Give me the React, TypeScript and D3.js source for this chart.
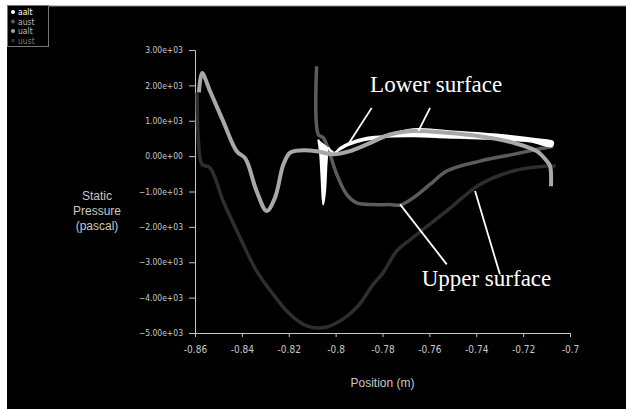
import { useEffect, useRef } from "react";
import * as d3 from "d3";

// Figure size
const width = 626;
const height = 409;

// Plot area in pixels
const margin = { top: 50, right: 56, bottom: 76, left: 195 };

// Axis ticks
const xTicks = [-0.86, -0.84, -0.82, -0.8, -0.78, -0.76, -0.74, -0.72, -0.7];
const yTicks = [3000, 2000, 1000, 0, -1000, -2000, -3000, -4000, -5000];

// Legend entries
const seriesNames = ["aalt", "aust", "ualt", "uust"];
const seriesColors = ["#ffffff", "#5c5c5c", "#a8a8a8", "#2e2e2e"];

// aalt - white, spike at the leading edge then a closed loop
const aaltX = [-0.8074, -0.8067, -0.806, -0.8053, -0.8045, -0.8038, -0.8031, -0.801, -0.7981, -0.7939, -0.7867, -0.7798,
  -0.767, -0.7526, -0.7313, -0.7128, -0.7073, -0.7078, -0.717, -0.7384, -0.7526, -0.767, -0.78, -0.794, -0.8003];
const aaltY = [470, 140, -610, -1370, -990, -140, 235, 50, 235, 380, 520, 570,
  760, 710, 610, 470, 400, 280, 410, 500, 530, 560, 530, 330, 100];

// aust - dark gray
const austX = [-0.8081, -0.8074, -0.8053, -0.8024, -0.7995, -0.7953, -0.791, -0.7839, -0.7768, -0.7725, -0.7669,
  -0.7597, -0.7526, -0.7384, -0.7242, -0.7142, -0.7071];
const austY = [2540, 610, 520, 50, -520, -1080, -1320, -1370, -1370, -1385, -1180,
  -800, -420, -140, 50, 190, 280];

// ualt - light gray
const ualtX = [-0.8583, -0.857, -0.8536, -0.848, -0.8422, -0.8387, -0.8373, -0.8337, -0.8294, -0.8259, -0.8223,
  -0.8195, -0.8152, -0.8081, -0.801, -0.7939, -0.7867, -0.7768, -0.767, -0.7526, -0.7384, -0.7243, -0.7142,
  -0.7099, -0.7085, -0.7081];
const ualtY = [1800, 2350, 1840, 990, 140, -50, -240, -990, -1550, -1180, -240,
  90, 160, 140, 50, 140, 330, 610, 710, 660, 560, 380, 140,
  -140, -280, -850];

// uust - very dark gray
const uustX = [-0.8591, -0.8585, -0.857, -0.8536, -0.848, -0.8408, -0.8337, -0.8267, -0.8195, -0.8123, -0.8053,
  -0.7981, -0.791, -0.7839, -0.7798, -0.7739, -0.767, -0.7526, -0.7384, -0.7243, -0.7099, -0.706];
const uustY = [1790, 400, -235, -330, -1270, -2300, -3250, -3900, -4470, -4800, -4850,
  -4660, -4280, -3620, -3300, -2680, -2300, -1550, -800, -420, -280, -280];

// Annotation labels and pointer lines (data units)
const labelText = ["Lower surface", "Upper surface"];
const labelX = [-0.7853, -0.7633];
const labelY = [1800, -3670];
const pointerFromX = [-0.7846, -0.7597, -0.7725, -0.7405];
const pointerFromY = [1364, 1364, -1364, -989];
const pointerToX = [-0.7942, -0.7647, -0.7526, -0.7299];
const pointerToY = [376, 706, -3059, -3342];

const narrow = "'Liberation Sans Narrow', 'DejaVu Sans Condensed', 'Arial Narrow', sans-serif";

const zip = (xs: number[], ys: number[]) => xs.map((x, i) => [x, ys[i]] as [number, number]);

const drawChart = (node: SVGSVGElement) => {
  const svg = d3.select(node);
  svg.selectAll("*").remove();

  // white page edge then the black panel
  svg.append("rect").attr("width", width).attr("height", height).attr("fill", "#fff");
  svg.append("rect").attr("x", 7).attr("y", 6).attr("width", width - 7).attr("height", height - 6).attr("fill", "#000");
  svg.append("line").attr("x1", 7).attr("x2", width).attr("y1", 6).attr("y2", 6).attr("stroke", "#888");

  const x = d3.scaleLinear().domain([-0.86, -0.7]).range([margin.left, width - margin.right]);
  const y = d3.scaleLinear().domain([-5000, 3000]).range([height - margin.bottom, margin.top]);

  const axisColor = "#c8c8c8";

  // y axis: minor + major ticks
  const gy = svg.append("g").attr("transform", `translate(${margin.left},0)`);
  gy.call(d3.axisLeft(y).tickValues(d3.range(-5000, 3001, 200)).tickSize(3).tickFormat(() => ""));
  gy.call(d3.axisLeft(y).tickValues(yTicks).tickSize(6).tickPadding(6)
    .tickFormat(d => d3.format(".2e")(d as number).replace(/e([+-])(\d)$/, "e$10$2")));
  gy.selectAll("line,path").attr("stroke", axisColor);
  gy.selectAll("text").attr("fill", axisColor).attr("font-family", narrow).attr("font-size", 8.5);

  // x axis
  const gx = svg.append("g").attr("transform", `translate(0,${height - margin.bottom})`);
  gx.call(d3.axisBottom(x).tickValues(d3.range(-0.86, -0.6999, 0.01)).tickSize(3).tickFormat(() => ""));
  gx.call(d3.axisBottom(x).tickValues(xTicks).tickSize(4).tickPadding(9)
    .tickFormat(d => String(+(d as number).toFixed(2))));
  gx.selectAll("line,path").attr("stroke", axisColor);
  gx.selectAll("text").attr("fill", axisColor).attr("font-family", narrow).attr("font-size", 10);

  // axis titles
  svg.append("text")
    .attr("x", (x(-0.86) + x(-0.7)) / 2).attr("y", 387)
    .attr("text-anchor", "middle").attr("fill", axisColor)
    .attr("font-family", "'Liberation Sans', Arial, sans-serif").attr("font-size", 12)
    .text("Position (m)");
  svg.append("text")
    .attr("text-anchor", "middle").attr("fill", axisColor)
    .attr("font-family", "'Liberation Sans', Arial, sans-serif").attr("font-size", 12)
    .selectAll("tspan")
    .data(["Static", "Pressure", "(pascal)"])
    .join("tspan")
    .attr("x", 97)
    .attr("y", (_, i) => 200 + i * 15)
    .text(d => d);

  const line = d3.line<[number, number]>()
    .x(d => x(d[0]))
    .y(d => y(d[1]))
    .curve(d3.curveCatmullRom.alpha(0.5));

  // curves
  svg.append("path").attr("d", line(zip(uustX, uustY))).attr("fill", "none")
    .attr("stroke", seriesColors[3]).attr("stroke-width", 3.5).attr("stroke-linejoin", "round");
  svg.append("path").attr("d", line(zip(austX, austY))).attr("fill", "none")
    .attr("stroke", seriesColors[1]).attr("stroke-width", 3.5).attr("stroke-linejoin", "round");
  svg.append("path").attr("d", line(zip(aaltX, aaltY))).attr("fill", "#fff")
    .attr("stroke", seriesColors[0]).attr("stroke-width", 2).attr("stroke-linejoin", "round");
  svg.append("path").attr("d", line(zip(ualtX, ualtY))).attr("fill", "none")
    .attr("stroke", seriesColors[2]).attr("stroke-width", 4).attr("stroke-linejoin", "round");

  // annotations
  svg.selectAll(".pointer")
    .data(pointerFromX)
    .join("line")
    .attr("x1", (d) => x(d)).attr("y1", (_, i) => y(pointerFromY[i]))
    .attr("x2", (_, i) => x(pointerToX[i])).attr("y2", (_, i) => y(pointerToY[i]))
    .attr("stroke", "#fff").attr("stroke-width", 1.8);
  svg.selectAll(".label")
    .data(labelText)
    .join("text")
    .attr("x", (_, i) => x(labelX[i])).attr("y", (_, i) => y(labelY[i]))
    .attr("fill", "#fff")
    .attr("font-family", "'Liberation Serif', 'Times New Roman', serif")
    .attr("font-size", 23)
    .text(d => d);

  // legend
  const lg = svg.append("g");
  lg.append("rect").attr("x", 7.5).attr("y", 5.5).attr("width", 41).attr("height", 41)
    .attr("fill", "#000").attr("stroke", "#777");
  const items = lg.selectAll("g.item").data(seriesNames).join("g")
    .attr("transform", (_, i) => `translate(0,${12 + i * 9.5})`);
  items.append("circle").attr("cx", 13).attr("cy", 0).attr("r", 2)
    .attr("fill", (_, i) => seriesColors[i]);
  items.append("text").attr("x", 18).attr("y", 3)
    .attr("fill", (_, i) => (i === 0 ? "#fff" : i === 3 ? "#777" : "#bbb"))
    .attr("font-family", narrow).attr("font-size", 8.5)
    .text(d => d);
};

export default function App() {
  const ref = useRef<SVGSVGElement>(null);

  useEffect(() => {
    if (ref.current) drawChart(ref.current);
  }, []);

  return (
    <svg
      ref={ref}
      width={width}
      height={height}
      style={{ position: "absolute", left: 0, top: 0, display: "block" }}
    />
  );
}
